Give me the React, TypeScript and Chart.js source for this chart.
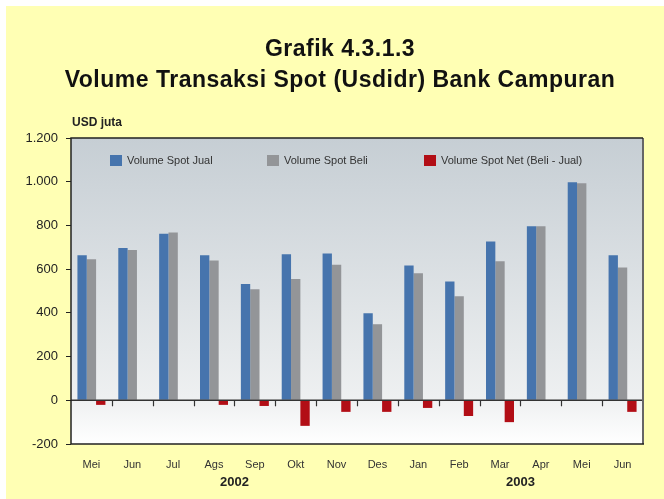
import React, { useEffect, useRef } from "react";
import { Chart, registerables } from "chart.js";

Chart.register(...registerables);

const months = ["Mei", "Jun", "Jul", "Ags", "Sep", "Okt", "Nov", "Des", "Jan", "Feb", "Mar", "Apr", "Mei", "Jun"];
const spotJual = [663, 697, 762, 663, 532, 668, 672, 398, 617, 544, 727, 796, 997, 663];
const spotBeli = [645, 688, 768, 640, 508, 555, 620, 348, 581, 476, 636, 796, 993, 608];
const spotNet = [-21, 0, 0, -21, -26, -117, -53, -53, -35, -72, -100, 0, 0, -53];
const seriesNames = ["Volume Spot Jual", "Volume Spot Beli", "Volume Spot Net (Beli - Jual)"];
const seriesColors = ["#4674AD", "#939598", "#B20E16"];
const yearLabels = ["2002", "2003"];
const yearCenters = [3.5, 10.5];
const titleLines = ["Grafik 4.3.1.3", "Volume Transaksi Spot (Usdidr) Bank Campuran"];
const unitLabel = "USD juta";

const FONT = "'Liberation Sans', Arial, Helvetica, sans-serif";

const decorPlugin = {
  id: "decor",
  beforeDraw(chart: any) {
    const { ctx, chartArea: a } = chart;
    ctx.save();
    ctx.fillStyle = "#FFFFFF";
    ctx.fillRect(0, 0, chart.width, chart.height);
    ctx.fillStyle = "#FFFFB4";
    ctx.fillRect(6, 6, chart.width - 6, chart.height - 6);
    const g = ctx.createLinearGradient(0, a.top, 0, a.bottom);
    g.addColorStop(0, "#C6CED4");
    g.addColorStop(0.85, "#EEF0F1");
    g.addColorStop(1, "#FFFFFF");
    ctx.fillStyle = g;
    ctx.fillRect(a.left, a.top, a.right - a.left, a.bottom - a.top);
    ctx.restore();
  },
  afterDatasetsDraw(chart: any) {
    const { ctx, chartArea: a, scales } = chart;
    const x = scales.x;
    const y = scales.y;
    const y0 = y.getPixelForValue(0);
    ctx.save();
    ctx.strokeStyle = "#333333";
    ctx.lineWidth = 1.5;
    ctx.beginPath();
    ctx.moveTo(a.left, y0);
    ctx.lineTo(a.right, y0);
    ctx.stroke();
    ctx.lineWidth = 1.2;
    for (let i = 0; i < months.length; i++) {
      const px = Math.round((x.getPixelForValue(i) + x.getPixelForValue(i + 1)) / 2) + 0.5;
      const bx = i === months.length - 1 ? a.right : px;
      ctx.beginPath();
      ctx.moveTo(bx, y0);
      ctx.lineTo(bx, y0 + 6);
      ctx.stroke();
    }
    ctx.strokeStyle = "#666666";
    ctx.lineWidth = 2;
    ctx.beginPath();
    ctx.moveTo(a.right, a.top);
    ctx.lineTo(a.right, a.bottom);
    ctx.stroke();
    ctx.strokeStyle = "#222222";
    ctx.lineWidth = 1.5;
    ctx.beginPath();
    ctx.moveTo(a.right, a.top);
    ctx.lineTo(a.left, a.top);
    ctx.lineTo(a.left, a.bottom);
    ctx.lineTo(a.right + 1, a.bottom);
    ctx.stroke();
    ctx.restore();
  },
  afterDraw(chart: any) {
    const { ctx, scales } = chart;
    const x = scales.x;
    ctx.save();
    ctx.fillStyle = "#111111";
    ctx.textAlign = "center";
    ctx.textBaseline = "alphabetic";
    ctx.font = `bold 23px ${FONT}`;
    try { (ctx as any).letterSpacing = "0.5px"; } catch (e) {}
    ctx.fillText(titleLines[0], 340, 56);
    ctx.fillText(titleLines[1], 340, 86.5);
    try { (ctx as any).letterSpacing = "0px"; } catch (e) {}
    ctx.textAlign = "left";
    ctx.font = `bold 12px ${FONT}`;
    ctx.fillStyle = "#222222";
    ctx.fillText(unitLabel, 72, 126);
    ctx.textAlign = "center";
    ctx.font = `bold 13px ${FONT}`;
    yearLabels.forEach((t, i) => {
      const c = yearCenters[i];
      const px = (x.getPixelForValue(Math.floor(c)) + x.getPixelForValue(Math.ceil(c))) / 2;
      ctx.fillText(t, px, 486);
    });
    ctx.textAlign = "left";
    ctx.textBaseline = "middle";
    ctx.font = `11px ${FONT}`;
    seriesNames.forEach((n, i) => {
      const lx = 110 + i * 157;
      ctx.fillStyle = seriesColors[i];
      ctx.fillRect(lx, 155, 12, 11);
      ctx.fillStyle = "#333333";
      ctx.fillText(n, lx + 17, 161);
    });
    ctx.restore();
  },
};

export default function App() {
  const ref = useRef<HTMLCanvasElement>(null);
  useEffect(() => {
    if (!ref.current) return;
    const chart = new Chart(ref.current, {
      type: "bar",
      data: {
        labels: months,
        datasets: [
          { label: seriesNames[0], data: spotJual, backgroundColor: seriesColors[0] },
          { label: seriesNames[1], data: spotBeli, backgroundColor: seriesColors[1] },
          { label: seriesNames[2], data: spotNet, backgroundColor: seriesColors[2] },
        ],
      },
      options: {
        responsive: false,
        animation: false,
        layout: { padding: { left: 0, top: 138, right: 21, bottom: 0 } },
        datasets: { bar: { barPercentage: 1, categoryPercentage: 0.685 } },
        plugins: { legend: { display: false }, tooltip: { enabled: false }, title: { display: false } },
        scales: {
          x: {
            grid: { display: false },
            border: { display: false },
            ticks: { color: "#333333", font: { family: FONT, size: 11 }, padding: 6, maxRotation: 0, autoSkip: false },
            afterFit: (s: any) => { s.height = 55; },
          },
          y: {
            min: -200,
            max: 1200,
            grid: { drawOnChartArea: false, drawTicks: true, tickLength: 5, color: "#222222" },
            border: { display: false },
            ticks: {
              stepSize: 200,
              color: "#222222",
              padding: 8,
              font: { family: FONT, size: 13 },
              callback: (v: any) => Number(v).toLocaleString("de-DE"),
            },
            afterFit: (s: any) => { s.width = 71; },
          },
        },
      },
      plugins: [decorPlugin],
    });
    return () => chart.destroy();
  }, []);
  return (
    <div style={{ position: "absolute", left: 0, top: 0, width: 664, height: 499 }}>
      <canvas ref={ref} width={664} height={499} style={{ display: "block" }} />
    </div>
  );
}
